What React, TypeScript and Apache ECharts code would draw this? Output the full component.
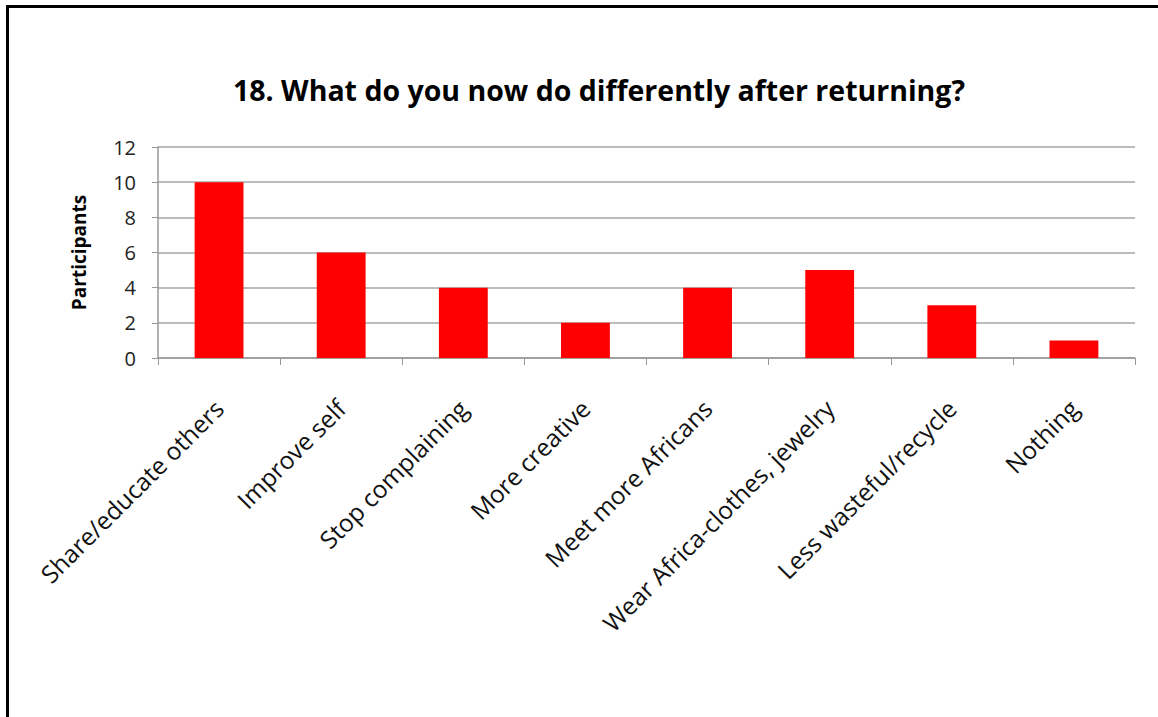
import React, { useEffect, useRef } from "react";
import * as echarts from "echarts";

const titleText = "18. What do you now do differently after returning?";
const yAxisName = "Participants";
const categories = [
  "Share/educate others",
  "Improve self",
  "Stop complaining",
  "More creative",
  "Meet more Africans",
  "Wear Africa-clothes, jewelry",
  "Less wasteful/recycle",
  "Nothing",
];
const values = [10, 6, 4, 2, 4, 5, 3, 1];

export default function App() {
  const ref = useRef<HTMLDivElement>(null);
  useEffect(() => {
    if (!ref.current) return;
    const chart = echarts.init(ref.current, null, { renderer: "svg" });
    const font = "'Open Sans', 'Liberation Sans', sans-serif";
    chart.setOption({
      animation: false,
      backgroundColor: "#ffffff",
      title: {
        text: titleText,
        left: 228,
        top: 70,
        textStyle: { fontFamily: font, fontSize: 28.5, fontWeight: "bold", color: "#000" },
      },
      graphic: [
        {
          type: "rect",
          shape: { x: 7.5, y: 6.5, width: 1300, height: 900 },
          style: { fill: "none", stroke: "#000", lineWidth: 3 },
        },
      ],
      grid: { left: 158, right: 23, top: 147, bottom: 359 },
      xAxis: {
        type: "category",
        data: categories,
        axisLine: { lineStyle: { color: "#999", width: 1.5 } },
        axisTick: { show: true, length: 7, lineStyle: { color: "#999" } },
        axisLabel: {
          rotate: 45,
          interval: 0,
          margin: 46,
          fontFamily: font,
          fontSize: 24.5,
          color: "#111",
        },
      },
      yAxis: {
        type: "value",
        min: 0,
        max: 12,
        interval: 2,
        name: yAxisName,
        nameLocation: "middle",
        nameGap: 70,
        nameTextStyle: { fontFamily: font, fontSize: 19, fontWeight: "bold", color: "#000" },
        axisLine: { show: true, lineStyle: { color: "#999", width: 1.5 } },
        axisTick: { show: true, length: 6, lineStyle: { color: "#999" } },
        splitLine: { lineStyle: { color: "#a6a6a6", width: 1.5 } },
        axisLabel: { fontFamily: font, fontSize: 20, color: "#222", margin: 22 },
      },
      series: [
        {
          type: "bar",
          data: values,
          barWidth: "40%",
          itemStyle: { color: "#ff0000" },
        },
      ],
    });
    return () => chart.dispose();
  }, []);
  return (
    <div
      ref={ref}
      style={{ position: "fixed", left: 0, top: 0, width: 1158, height: 717 }}
    />
  );
}
